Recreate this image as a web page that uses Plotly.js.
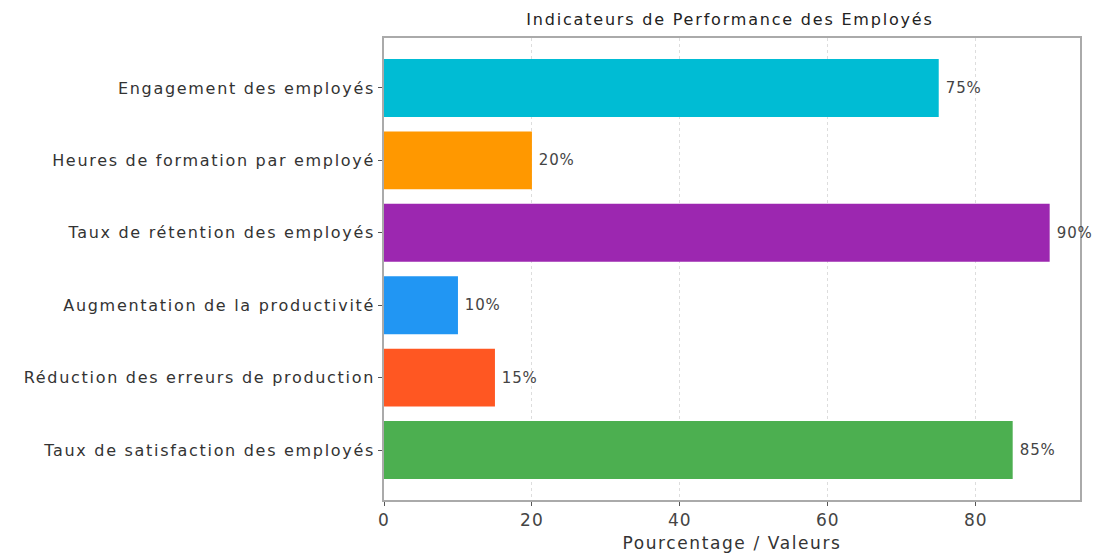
<!DOCTYPE html>
<html><head><meta charset="utf-8">
<script src="https://cdn.plot.ly/plotly-3.0.1.min.js"></script>
<style>
body{margin:0;background:#fff}#c{width:1101px;height:555px}
#c .ytick text{letter-spacing:1.7px}
#c .xtick text{letter-spacing:1px}
#c .gtitle{letter-spacing:1.8px}
#c .xtitle{letter-spacing:1.6px}
#c .annotation-text{letter-spacing:0.8px}
</style>
</head><body><div id="c"></div>
<script>
const categories = ["Engagement des employés","Heures de formation par employé","Taux de rétention des employés","Augmentation de la productivité","Réduction des erreurs de production","Taux de satisfaction des employés"];
const values = [75, 20, 90, 10, 15, 85];
const colors = ["#00BCD4","#FF9800","#9C27B0","#2196F3","#FF5722","#4CAF50"];
const xTicks = [0, 20, 40, 60, 80];
const FONT = "DejaVu Sans";
const annotations = values.map((v, i) => ({
  x: v, y: categories[i], xref: 'x', yref: 'y', text: v + '%', showarrow: false,
  xanchor: 'left', yanchor: 'middle', xshift: 6,
  font: {family: FONT, size: 15, color: '#444'}
}));
Plotly.newPlot('c', [{
  type: 'bar', orientation: 'h',
  x: values, y: categories,
  marker: {color: colors},
  width: 0.8,
  hoverinfo: 'none'
}], {
  width: 1101, height: 555,
  margin: {l: 384, r: 21, t: 38, b: 55},
  paper_bgcolor: '#fff', plot_bgcolor: '#fff',
  font: {family: FONT, color: '#333'},
  title: {text: 'Indicateurs de Performance des Employés', font: {family: FONT, size: 16, color: '#222'}, x: 0.663, xanchor: 'center', y: 0.965, yanchor: 'middle'},
  xaxis: {range: [0, 94.1], tickvals: xTicks, ticktext: xTicks.map(String), ticks: 'outside', ticklen: 4, tickcolor: '#555',
    showgrid: true, gridcolor: '#ddd', griddash: 'dot', zeroline: false,
    showline: true, linecolor: '#aaa', linewidth: 1.5, mirror: true,
    tickfont: {family: FONT, size: 17, color: '#444'},
    title: {text: 'Pourcentage / Valeurs', font: {family: FONT, size: 17, color: '#333'}, standoff: 8}},
  yaxis: {categoryorder: 'array', categoryarray: categories, autorange: false, range: [5.69, -0.69],
    ticks: 'outside', ticklen: 4, tickcolor: '#555', showgrid: false, zeroline: false,
    showline: true, linecolor: '#aaa', linewidth: 1.5, mirror: true,
    tickfont: {family: FONT, size: 16, color: '#333'}},
  annotations: annotations,
  showlegend: false
}, {displayModeBar: false});
</script></body></html>
